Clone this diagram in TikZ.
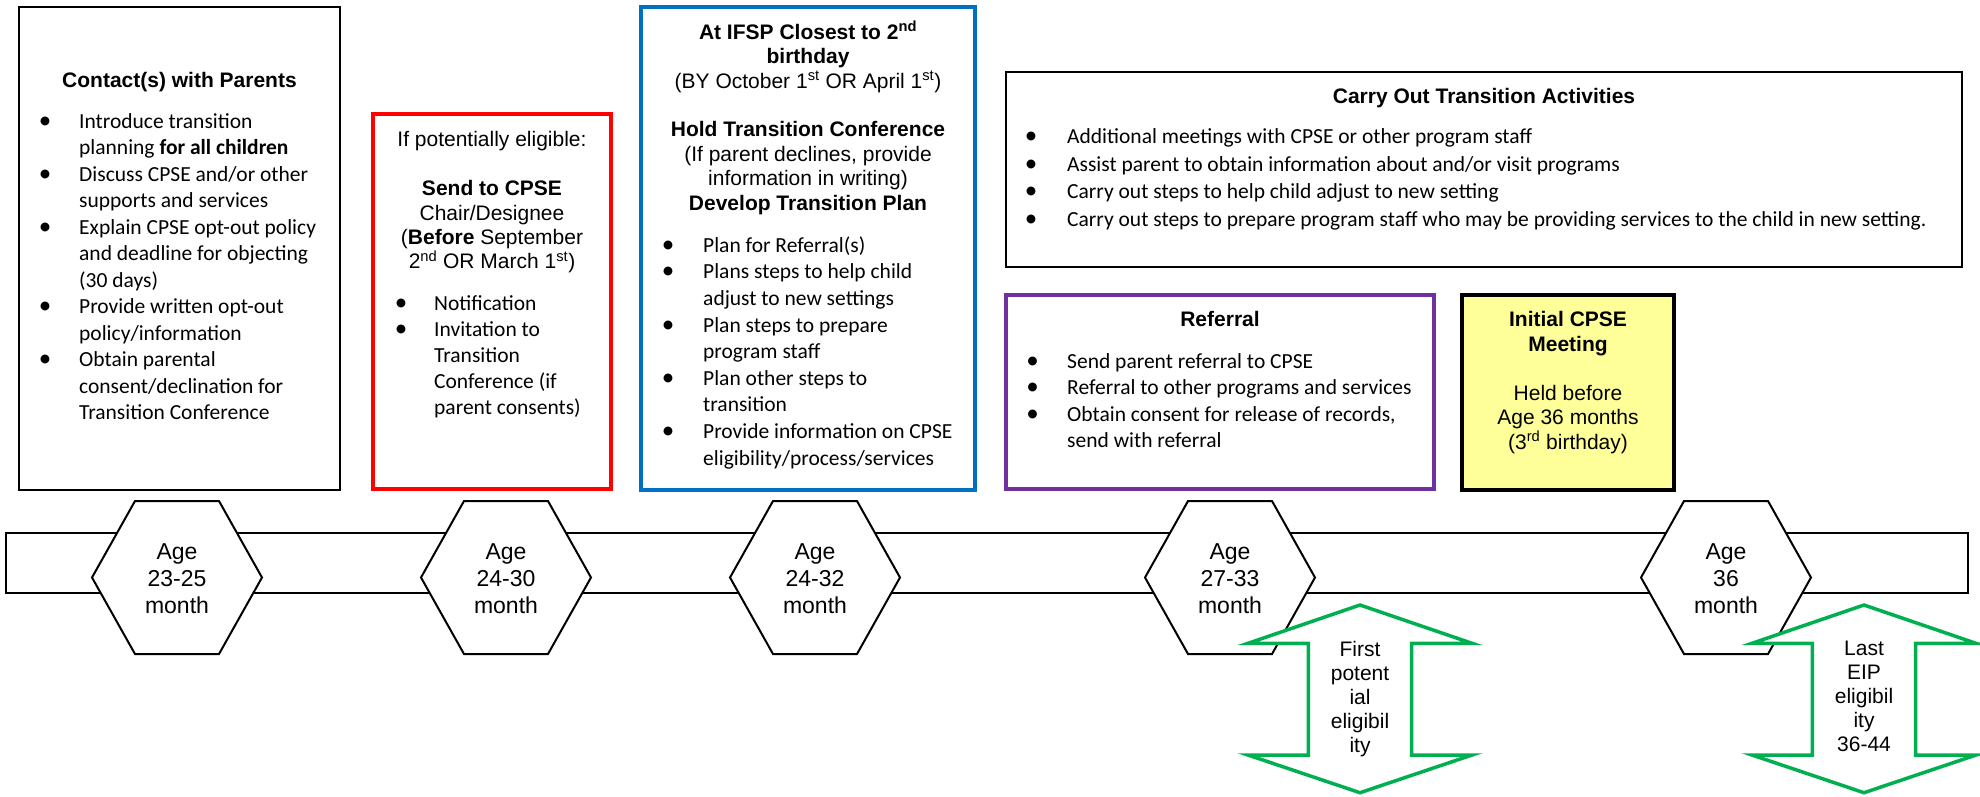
\documentclass[tikz,border=0pt]{standalone}
\usepackage{fontspec}
\setmainfont{Liberation Sans}
\newfontfamily\calfont{Carlito}
\definecolor{eipgreen}{HTML}{00B050}
\definecolor{boxblue}{HTML}{0070C0}
\definecolor{boxpurple}{HTML}{7030A0}
\definecolor{boxyellow}{HTML}{FFFF99}
\tikzset{
  boxbase/.style={draw, rectangle, inner sep=0pt, fill=white},
  ttl/.style={font=\bfseries\fontsize{21}{25}\selectfont, inner sep=0pt, anchor=base},
  reg/.style={font=\fontsize{21}{25}\selectfont, inner sep=0pt, anchor=base},
  itm/.style={font=\calfont\fontsize{21.5}{26}\selectfont, inner sep=0pt, anchor=base west},
  bul/.style={font=\calfont\fontsize{25}{26}\selectfont, inner sep=0pt, anchor=base},
  hextxt/.style={font=\fontsize{23}{27}\selectfont, inner sep=0pt, anchor=base},
  arrtxt/.style={font=\fontsize{21}{24}\selectfont, inner sep=0pt, anchor=base},
  hexshape/.style={draw=black, line width=2pt, fill=white, line join=miter},
  dblarrow/.style={draw=eipgreen, line width=3.5pt, fill=white, line join=miter},
}
\newcommand\putlines[6]{%
  \foreach \ltxt [count=\lno from 0] in {#6} {\node[#5] (#1\lno) at (#2,{#3+\lno*(#4)}) {\ltxt};}}
\newcommand\putbullets[3]{%
  \foreach \yy [count=\lno] in {#3} {\node[bul] (#1\lno) at (#2,\yy) {•};}}
\newcommand\agehex[3]{%
  \draw[hexshape] (#2-85,577.5) -- (#2-42,501) -- (#2+42,501) -- (#2+85,577.5) -- (#2+42,654) -- (#2-42,654) -- cycle;
  \node[hextxt] (#1a) at (#2,559.3) {Age};
  \node[hextxt] (#1b) at (#2,586.6) {#3};
  \node[hextxt] (#1c) at (#2,613.9) {month};}
\newcommand\eiparrow[1]{%
  \draw[dblarrow] (#1,605) -- (#1+112,643.3) -- (#1+51.7,643.3) -- (#1+51.7,755) -- (#1+112,755) -- (#1,792.7) -- (#1-112,755) -- (#1-51.7,755) -- (#1-51.7,643.3) -- (#1-112,643.3) -- cycle;}
\begin{document}
\begin{tikzpicture}[x=1pt,y=-1pt]
\useasboundingbox (0,0) rectangle (1980,796);
\fill[white] (0,0) rectangle (1980,796);

% boxes
\node[boxbase, line width=2.2pt, minimum width=321pt, minimum height=483pt] (contact) at (179.5,248.5) {};
\node[boxbase, draw=red, line width=3.5pt, minimum width=238pt, minimum height=375pt] (send) at (492,301.5) {};
\node[boxbase, draw=boxblue, line width=3.5pt, minimum width=334pt, minimum height=483pt] (ifsp) at (808,248.5) {};
\node[boxbase, line width=2.5pt, minimum width=956pt, minimum height=195pt] (carry) at (1484,169.5) {};
\node[boxbase, draw=boxpurple, line width=3.5pt, minimum width=428pt, minimum height=194pt] (referral) at (1220,392) {};
\node[boxbase, fill=boxyellow, line width=4pt, minimum width=212pt, minimum height=195pt] (initial) at (1568,392.5) {};

% box 1
\node[ttl] (cat) at (179.5,87) {Contact(s) with Parents};
\putlines{ca}{79}{128.3}{26.5}{itm}{Introduce transition, planning \textbf{for all children}, Discuss CPSE and/or other, supports and services, Explain CPSE opt-out policy, and deadline for objecting, {(30 days)}, Provide written opt-out, policy/information, Obtain parental, consent/declination for, Transition Conference}
\putbullets{cb}{45}{128.3,181.3,234.3,313.8,366.8}

% box 2
\node[reg] (set) at (492,146.7) {If potentially eligible:};
\putlines{se}{492}{195.7}{24.4}{reg}{\textbf{Send to CPSE}, Chair/Designee, {(\textbf{Before} September}, {2\textsuperscript{nd} OR March 1\textsuperscript{st})}}
\putlines{si}{434}{310}{26}{itm}{Notification, Invitation to, Transition, {Conference (if}, {parent consents)}}
\putbullets{sb}{401}{310,336}

% box 3
\putlines{ia}{808}{39.3}{24.4}{reg}{\textbf{At IFSP Closest to 2\textsuperscript{nd}}, \textbf{birthday}, {(BY October 1\textsuperscript{st} OR April 1\textsuperscript{st})}}
\putlines{ib}{808}{136.9}{24.4}{reg}{\textbf{Hold Transition Conference}, {(If parent declines, provide}, {information in writing)}, \textbf{Develop Transition Plan}}
\putlines{ic}{703}{252.3}{26.6}{itm}{{Plan for Referral(s)}, Plans steps to help child, adjust to new settings, Plan steps to prepare, program staff, Plan other steps to, transition, Provide information on CPSE, eligibility/process/services}
\putbullets{icb}{668}{252.3,278.9,332.1,385.3,438.5}

% box 4
\node[ttl] (ctt) at (1484,103.3) {Carry Out Transition Activities};
\putlines{ct}{1067}{143.3}{27.8}{itm}{Additional meetings with CPSE or other program staff, Assist parent to obtain information about and/or visit programs, Carry out steps to help child adjust to new setting, Carry out steps to prepare program staff who may be providing services to the child in new setting.}
\putbullets{ctb}{1031}{143.3,171.1,198.9,226.7}

% box 5
\node[ttl] (rft) at (1220,326.7) {Referral};
\putlines{rf}{1067}{368.3}{26.5}{itm}{Send parent referral to CPSE, Referral to other programs and services, {Obtain consent for release of records,}, send with referral}
\putbullets{rfb}{1032.5}{368.3,394.8,421.3}

% box 6
\putlines{im}{1568}{326.7}{24.4}{ttl}{Initial CPSE, Meeting}
\putlines{ih}{1568}{400.3}{24.4}{reg}{Held before, Age 36 months, {(3\textsuperscript{rd} birthday)}}

% timeline
\node[boxbase, line width=1.8pt, minimum width=1962pt, minimum height=60pt] (bar) at (987,563) {};
\agehex{ha}{177}{23-25}
\agehex{hb}{506}{24-30}
\agehex{hc}{815}{24-32}
\agehex{hd}{1230}{27-33}
\agehex{he}{1726}{36}

% arrows
\eiparrow{1360}
\putlines{fa}{1360}{656}{24.2}{arrtxt}{First, potent, ial, eligibil, ity}
\eiparrow{1864}
\putlines{la}{1864}{655}{24.2}{arrtxt}{Last, EIP, eligibil, ity, 36-44}
\end{tikzpicture}
\end{document}
